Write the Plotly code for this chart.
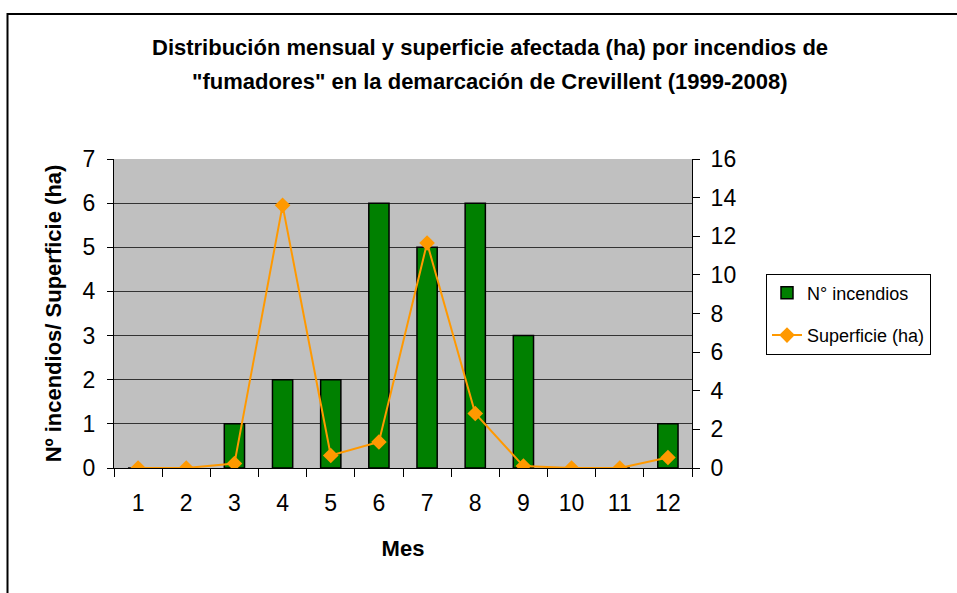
import plotly.graph_objects as go

meses = ["1", "2", "3", "4", "5", "6", "7", "8", "9", "10", "11", "12"]
n_incendios = [0, 0, 1, 2, 2, 6, 5, 6, 3, 0, 0, 1]
superficie = [0, 0, 0.23, 13.6, 0.65, 1.35, 11.65, 2.82, 0.1, 0, 0, 0.54]

titulo_1 = "Distribución mensual y superficie afectada (ha) por incendios de"
titulo_2 = "\"fumadores\" en la demarcación de Crevillent (1999-2008)"

fuente = "Liberation Sans, Arial, sans-serif"

# area del grafico en px: x 114..692, y 159..468
L, R, T, B = 114, 692, 159, 468
W, H = R - L, B - T

fig = go.Figure()

fig.add_trace(go.Bar(
    x=meses, y=n_incendios, name="N° incendios", legendgroup="a",
    marker=dict(color="#008000", line=dict(color="black", width=1.5)),
    width=0.42,
))

fig.add_trace(go.Scatter(
    x=meses, y=superficie, name="Superficie (ha)", yaxis="y2", legendgroup="b",
    mode="lines+markers",
    line=dict(color="#FF9900", width=2),
    marker=dict(symbol="diamond", size=12, color="#FF9900"),
))

fig.update_layout(
    width=957, height=593,
    margin=dict(l=L, r=957 - R, t=T, b=593 - B),
    paper_bgcolor="white",
    plot_bgcolor="#C0C0C0",
    font=dict(family=fuente, color="black"),
    xaxis=dict(
        type="category", range=[-0.5, len(meses) - 0.5],
        title=dict(text="<b>Mes</b>", font=dict(size=22), standoff=26),
        tickfont=dict(size=23), ticklabelstandoff=14,
        ticks="outside", ticklen=8, tickcolor="black", tickson="boundaries",
        showline=True, linecolor="black", linewidth=1,
        showgrid=False,
    ),
    yaxis=dict(
        range=[0, 7], dtick=1,
        title=dict(text="<b>Nº incendios/ Superficie (ha)</b>", font=dict(size=22), standoff=14),
        tickfont=dict(size=23), ticklabelstandoff=7,
        ticks="outside", ticklen=6, tickcolor="black",
        showline=True, linecolor="black", linewidth=1,
        showgrid=True, gridcolor="#333333", gridwidth=1,
        zeroline=False,
    ),
    yaxis2=dict(
        overlaying="y", side="right",
        range=[0, 16], dtick=2,
        tickfont=dict(size=23), ticklabelstandoff=6,
        ticks="outside", ticklen=7, tickcolor="black",
        showline=True, linecolor="black", linewidth=1,
        showgrid=False, zeroline=False,
    ),
    legend=dict(
        x=(766 - L) / W, xanchor="left", y=(B - 314) / H, yanchor="middle",
        bordercolor="black", borderwidth=1, bgcolor="white",
        font=dict(size=18), tracegroupgap=16,
    ),
    bargap=0.5,
)

for texto, ypx in [(titulo_1, 48), (titulo_2, 82)]:
    fig.add_annotation(
        text="<b>" + texto + "</b>", xref="paper", yref="paper",
        x=(490 - L) / W, y=(B - ypx) / H, xanchor="center", yanchor="middle",
        showarrow=False, font=dict(size=22, color="black"),
    )

# marco exterior del grafico
fig.add_shape(
    type="rect", xref="paper", yref="paper",
    x0=(7.5 - L) / W, x1=(970 - L) / W,
    y0=(B - 620) / H, y1=(B - 14) / H,
    line=dict(color="black", width=2), fillcolor="rgba(0,0,0,0)", layer="below",
)

fig.write_html("out.html", config={"displayModeBar": False},
               post_script="document.body.style.margin='0';")
